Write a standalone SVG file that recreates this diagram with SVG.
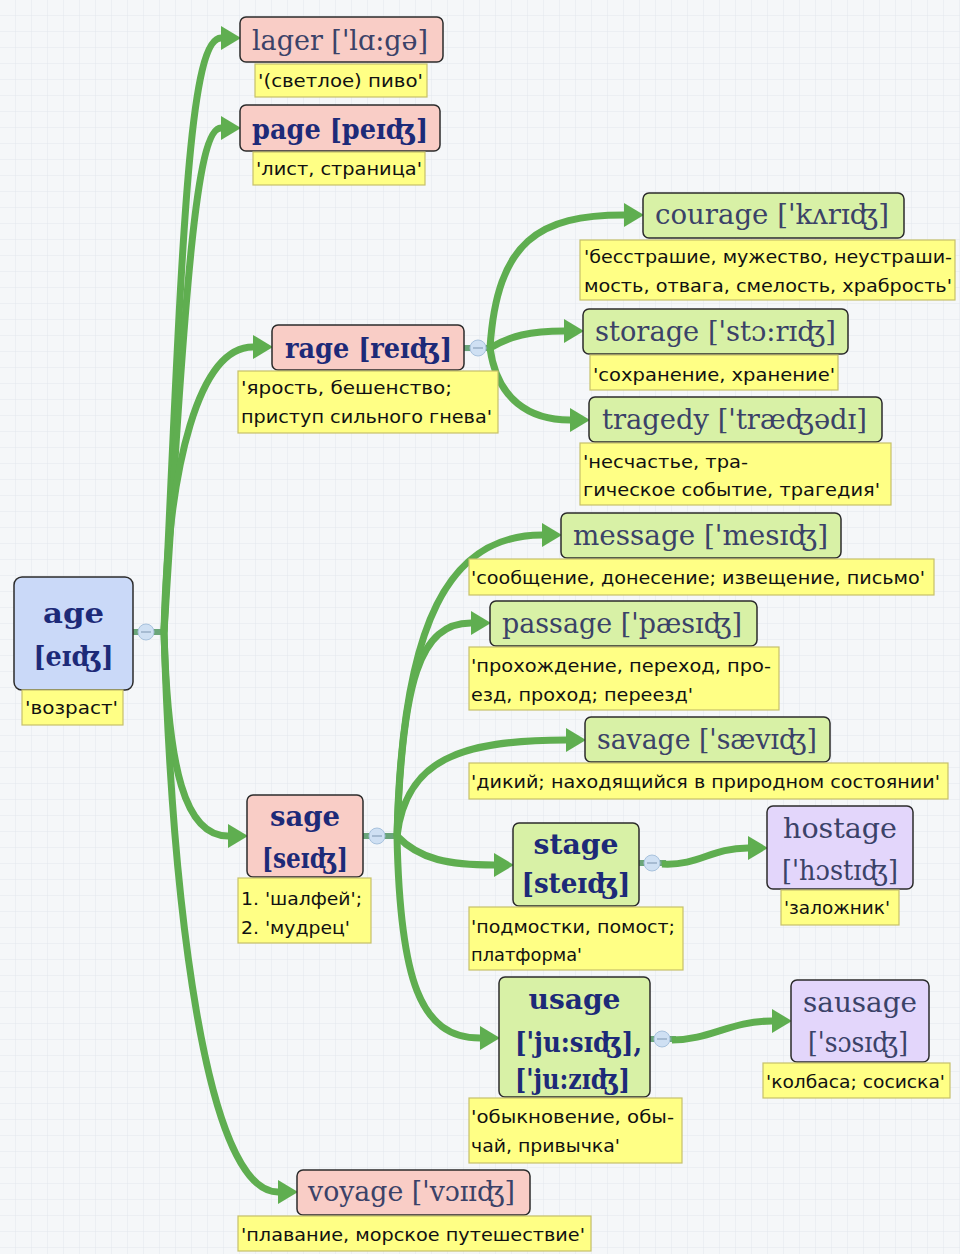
<svg xmlns="http://www.w3.org/2000/svg" width="960" height="1254" viewBox="0 0 960 1254">
  <defs>
    <pattern id="grid" width="16" height="16" patternUnits="userSpaceOnUse">
      <rect width="16" height="16" fill="#f5f7f9"/>
      <path d="M16 0 V16 M0 16 H16" fill="none" stroke="#e3e8ee" stroke-width="1"/>
    </pattern>
    <marker id="arrow" markerUnits="userSpaceOnUse" markerWidth="22" markerHeight="26" viewBox="0 -13 22 26" refX="0" refY="0" orient="auto">
      <path d="M0,-12 L20,0 L0,12 z" fill="#5fae50"/>
    </marker>
    <style>
      .node rect.box { stroke: #2b2b2b; stroke-width: 1.5; }
      .pink { fill: #f9cdc6; }
      .green { fill: #d8f1a6; }
      .blue { fill: #cad9f8; }
      .purple { fill: #e3d6fb; }
      .note { fill: #ffff85; stroke: #c6c06a; stroke-width: 1.2; }
      .hw { font-family: "DejaVu Serif", "Liberation Serif", serif; font-size: 28px; fill: #3b4268; }
      .hwb { font-family: "DejaVu Serif", "Liberation Serif", serif; font-size: 28px; font-weight: bold; fill: #1d2a78; }
      .nt { font-family: "DejaVu Sans", "Liberation Sans", sans-serif; font-size: 18px; fill: #111; }
      .link { fill: none; stroke: #5fae50; stroke-width: 7; marker-end: url(#arrow); }
      .stub { fill: none; stroke: #6aa57a; stroke-width: 6; }
      .toggle circle { fill: #cfe0f3; stroke: #a8c2dd; stroke-width: 1; }
      .toggle line { stroke: #8aa2bd; stroke-width: 1.2; }
    </style>
  </defs>

  <rect width="960" height="1254" fill="url(#grid)"/>

  <!-- connectors -->
  <g id="connectors">
    <path class="stub" d="M133,632 H166"/>
    <path class="link" d="M164,632 C182,250 188,38 221,38"/>
    <path class="link" d="M164,632 C185,300 195,128 221,128"/>
    <path class="link" d="M164,632 C168,460 200,347 253,347"/>
    <path class="link" d="M164,632 C168,770 185,836 228,836"/>
    <path class="link" d="M164,632 C172,900 205,1192 278,1192"/>

    <path class="stub" d="M464,348 H492"/>
    <path class="link" d="M490,348 C497,240 540,215 624,215"/>
    <path class="link" d="M490,348 C510,336 530,331 564,331"/>
    <path class="link" d="M490,348 C497,400 530,420 570,420"/>

    <path class="stub" d="M363,836 H398"/>
    <path class="link" d="M397,836 C402,620 450,535 542,535"/>
    <path class="link" d="M397,836 C402,680 420,623 471,623"/>
    <path class="link" d="M397,836 C406,760 460,740 566,740"/>
    <path class="link" d="M397,836 C420,860 450,865 494,865"/>
    <path class="link" d="M397,836 C400,980 420,1038 480,1038"/>

    <path class="stub" d="M639,863 H666"/>
    <path class="link" d="M662,864 C700,866 710,848 748,848"/>

    <path class="stub" d="M650,1039 H676"/>
    <path class="link" d="M672,1040 C710,1040 730,1021 772,1021"/>

    <g class="toggle"><circle cx="146" cy="632" r="8"/><line x1="141" y1="632" x2="151" y2="632"/></g>
    <g class="toggle"><circle cx="478" cy="348" r="8"/><line x1="473" y1="348" x2="483" y2="348"/></g>
    <g class="toggle"><circle cx="377" cy="836" r="8"/><line x1="372" y1="836" x2="382" y2="836"/></g>
    <g class="toggle"><circle cx="652" cy="863" r="8"/><line x1="647" y1="863" x2="657" y2="863"/></g>
    <g class="toggle"><circle cx="662" cy="1039" r="8"/><line x1="657" y1="1039" x2="667" y2="1039"/></g>
  </g>

  <!-- root -->
  <g id="age" class="node">
    <rect class="box blue" x="14" y="577" width="119" height="113" rx="8"/>
    <text class="hwb" x="73.5" y="623" text-anchor="middle" textLength="61" lengthAdjust="spacingAndGlyphs">age</text>
    <text class="hwb" x="73.5" y="666" text-anchor="middle" textLength="80" lengthAdjust="spacingAndGlyphs">[eɪʤ]</text>
    <rect class="note" x="22" y="690" width="101" height="35"/>
    <text class="nt" x="25" y="714" textLength="93" lengthAdjust="spacingAndGlyphs">'возраст'</text>
  </g>

  <g id="lager" class="node">
    <rect class="box pink" x="240" y="17" width="203" height="45" rx="6"/>
    <text class="hw" x="252" y="50" textLength="176" lengthAdjust="spacingAndGlyphs">lager ['lɑ:gə]</text>
    <rect class="note" x="255" y="64" width="172" height="33"/>
    <text class="nt" x="258" y="87" textLength="165" lengthAdjust="spacingAndGlyphs">'(светлое) пиво'</text>
  </g>

  <g id="page" class="node">
    <rect class="box pink" x="240" y="105" width="200" height="46" rx="6"/>
    <text class="hwb" x="252" y="139" textLength="176" lengthAdjust="spacingAndGlyphs">page [peɪʤ]</text>
    <rect class="note" x="253" y="152" width="172" height="33"/>
    <text class="nt" x="256" y="175" textLength="166" lengthAdjust="spacingAndGlyphs">'лист, страница'</text>
  </g>

  <g id="rage" class="node">
    <rect class="box pink" x="272" y="325" width="192" height="45" rx="6"/>
    <text class="hwb" x="285" y="358" textLength="167" lengthAdjust="spacingAndGlyphs">rage [reɪʤ]</text>
    <rect class="note" x="238" y="371" width="260" height="62"/>
    <text class="nt" x="241" y="394" textLength="211" lengthAdjust="spacingAndGlyphs">'ярость, бешенство;</text>
    <text class="nt" x="241" y="423" textLength="251" lengthAdjust="spacingAndGlyphs">приступ сильного гнева'</text>
  </g>

  <g id="courage" class="node">
    <rect class="box green" x="643" y="193" width="261" height="45" rx="6"/>
    <text class="hw" x="655" y="224" textLength="234" lengthAdjust="spacingAndGlyphs">courage ['kʌrɪʤ]</text>
    <rect class="note" x="580" y="240" width="375" height="60"/>
    <text class="nt" x="584" y="263" textLength="368" lengthAdjust="spacingAndGlyphs">'бесстрашие, мужество, неустраши-</text>
    <text class="nt" x="584" y="292" textLength="368" lengthAdjust="spacingAndGlyphs">мость, отвага, смелость, храбрость'</text>
  </g>

  <g id="storage" class="node">
    <rect class="box green" x="583" y="309" width="265" height="45" rx="6"/>
    <text class="hw" x="595" y="341" textLength="241" lengthAdjust="spacingAndGlyphs">storage ['stɔ:rɪʤ]</text>
    <rect class="note" x="590" y="355" width="248" height="35"/>
    <text class="nt" x="593" y="381" textLength="242" lengthAdjust="spacingAndGlyphs">'сохранение, хранение'</text>
  </g>

  <g id="tragedy" class="node">
    <rect class="box green" x="589" y="397" width="293" height="45" rx="6"/>
    <text class="hw" x="602" y="429" textLength="265" lengthAdjust="spacingAndGlyphs">tragedy ['træʤədɪ]</text>
    <rect class="note" x="580" y="443" width="311" height="62"/>
    <text class="nt" x="583" y="468" textLength="165" lengthAdjust="spacingAndGlyphs">'несчастье, тра-</text>
    <text class="nt" x="583" y="496" textLength="297" lengthAdjust="spacingAndGlyphs">гическое событие, трагедия'</text>
  </g>

  <g id="sage" class="node">
    <rect class="box pink" x="247" y="795" width="116" height="82" rx="6"/>
    <text class="hwb" x="305" y="826" text-anchor="middle" textLength="70" lengthAdjust="spacingAndGlyphs">sage</text>
    <text class="hwb" x="305" y="868" text-anchor="middle" textLength="86" lengthAdjust="spacingAndGlyphs">[seɪʤ]</text>
    <rect class="note" x="238" y="878" width="133" height="65"/>
    <text class="nt" x="241" y="905" textLength="121" lengthAdjust="spacingAndGlyphs">1. 'шалфей';</text>
    <text class="nt" x="241" y="934" textLength="109" lengthAdjust="spacingAndGlyphs">2. 'мудрец'</text>
  </g>

  <g id="message" class="node">
    <rect class="box green" x="561" y="513" width="280" height="45" rx="6"/>
    <text class="hw" x="573" y="545" textLength="255" lengthAdjust="spacingAndGlyphs">message ['mesɪʤ]</text>
    <rect class="note" x="469" y="559" width="465" height="36"/>
    <text class="nt" x="471" y="584" textLength="454" lengthAdjust="spacingAndGlyphs">'сообщение, донесение; извещение, письмо'</text>
  </g>

  <g id="passage" class="node">
    <rect class="box green" x="490" y="601" width="267" height="45" rx="6"/>
    <text class="hw" x="502" y="633" textLength="240" lengthAdjust="spacingAndGlyphs">passage ['pæsɪʤ]</text>
    <rect class="note" x="469" y="647" width="310" height="63"/>
    <text class="nt" x="471" y="672" textLength="300" lengthAdjust="spacingAndGlyphs">'прохождение, переход, про-</text>
    <text class="nt" x="471" y="701" textLength="222" lengthAdjust="spacingAndGlyphs">езд, проход; переезд'</text>
  </g>

  <g id="savage" class="node">
    <rect class="box green" x="585" y="717" width="245" height="45" rx="6"/>
    <text class="hw" x="597" y="749" textLength="220" lengthAdjust="spacingAndGlyphs">savage ['sævɪʤ]</text>
    <rect class="note" x="469" y="763" width="479" height="36"/>
    <text class="nt" x="471" y="788" textLength="469" lengthAdjust="spacingAndGlyphs">'дикий; находящийся в природном состоянии'</text>
  </g>

  <g id="stage" class="node">
    <rect class="box green" x="513" y="823" width="126" height="83" rx="6"/>
    <text class="hwb" x="576" y="854" text-anchor="middle" textLength="85" lengthAdjust="spacingAndGlyphs">stage</text>
    <text class="hwb" x="576" y="893" text-anchor="middle" textLength="109" lengthAdjust="spacingAndGlyphs">[steɪʤ]</text>
    <rect class="note" x="469" y="907" width="214" height="63"/>
    <text class="nt" x="471" y="933" textLength="204" lengthAdjust="spacingAndGlyphs">'подмостки, помост;</text>
    <text class="nt" x="471" y="961" textLength="111" lengthAdjust="spacingAndGlyphs">платформа'</text>
  </g>

  <g id="hostage" class="node">
    <rect class="box purple" x="767" y="806" width="146" height="83" rx="6"/>
    <text class="hw" x="840" y="838" text-anchor="middle" textLength="114" lengthAdjust="spacingAndGlyphs">hostage</text>
    <text class="hw" x="840" y="880" text-anchor="middle" textLength="116" lengthAdjust="spacingAndGlyphs">['hɔstɪʤ]</text>
    <rect class="note" x="781" y="890" width="118" height="35"/>
    <text class="nt" x="784" y="914" textLength="106" lengthAdjust="spacingAndGlyphs">'заложник'</text>
  </g>

  <g id="usage" class="node">
    <rect class="box green" x="499" y="977" width="151" height="120" rx="6"/>
    <text class="hwb" x="574.5" y="1009" text-anchor="middle" textLength="92" lengthAdjust="spacingAndGlyphs">usage</text>
    <text class="hwb" x="515" y="1052" textLength="127" lengthAdjust="spacingAndGlyphs">['ju:sɪʤ],</text>
    <text class="hwb" x="515" y="1089" textLength="115" lengthAdjust="spacingAndGlyphs">['ju:zɪʤ]</text>
    <rect class="note" x="469" y="1098" width="213" height="65"/>
    <text class="nt" x="471" y="1123" textLength="203" lengthAdjust="spacingAndGlyphs">'обыкновение, обы-</text>
    <text class="nt" x="471" y="1152" textLength="149" lengthAdjust="spacingAndGlyphs">чай, привычка'</text>
  </g>

  <g id="sausage" class="node">
    <rect class="box purple" x="791" y="980" width="138" height="82" rx="6"/>
    <text class="hw" x="860" y="1012" text-anchor="middle" textLength="114" lengthAdjust="spacingAndGlyphs">sausage</text>
    <text class="hw" x="858" y="1052" text-anchor="middle" textLength="100" lengthAdjust="spacingAndGlyphs">['sɔsɪʤ]</text>
    <rect class="note" x="763" y="1063" width="187" height="35"/>
    <text class="nt" x="766" y="1088" textLength="179" lengthAdjust="spacingAndGlyphs">'колбаса; сосиска'</text>
  </g>

  <g id="voyage" class="node">
    <rect class="box pink" x="297" y="1170" width="233" height="45" rx="6"/>
    <text class="hw" x="308" y="1201" textLength="207" lengthAdjust="spacingAndGlyphs">voyage ['vɔɪɪʤ]</text>
    <rect class="note" x="238" y="1216" width="353" height="35"/>
    <text class="nt" x="241" y="1241" textLength="344" lengthAdjust="spacingAndGlyphs">'плавание, морское путешествие'</text>
  </g>
</svg>
